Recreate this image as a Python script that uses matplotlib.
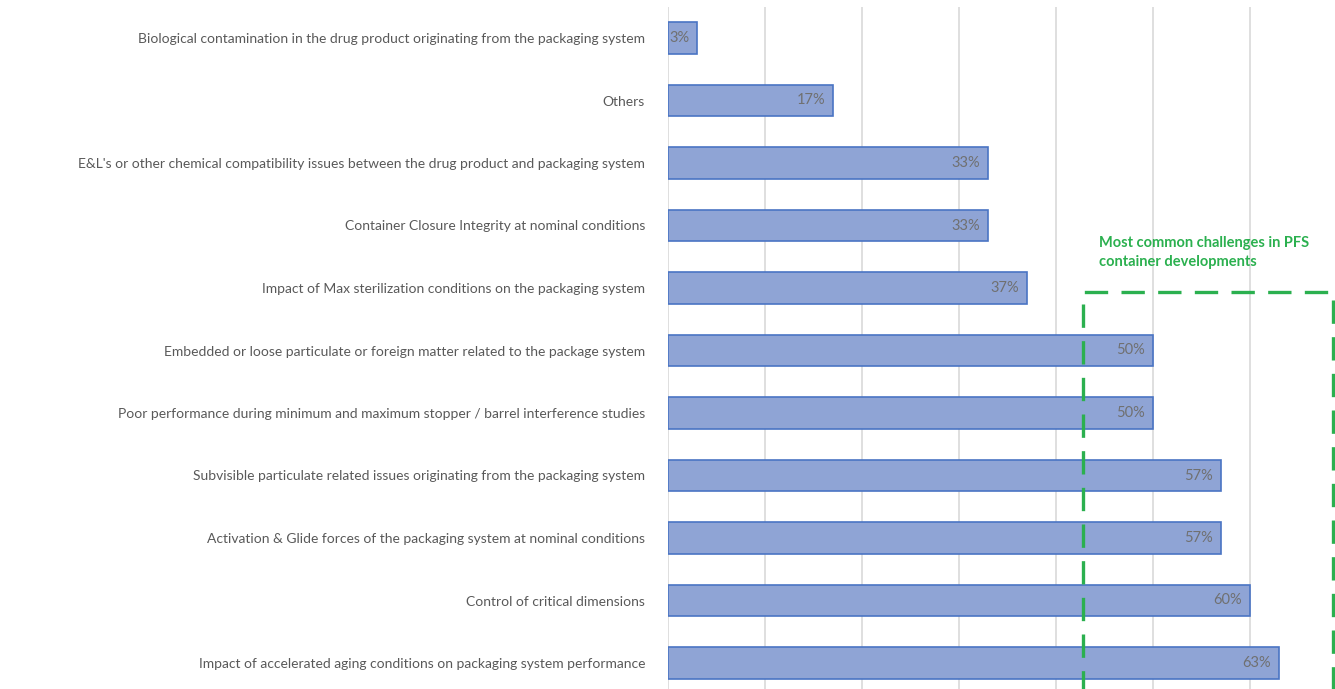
import matplotlib.pyplot as plt
from matplotlib.patches import Rectangle

plt.rcParams['font.family'] = ['Lato', 'DejaVu Sans']

categories = [
    "Biological contamination in the drug product originating from the packaging system",
    "Others",
    "E&L's or other chemical compatibility issues between the drug product and packaging system",
    "Container Closure Integrity at nominal conditions",
    "Impact of Max sterilization conditions on the packaging system",
    "Embedded or loose particulate or foreign matter related to the package system",
    "Poor performance during minimum and maximum stopper / barrel interference studies",
    "Subvisible particulate related issues originating from the packaging system",
    "Activation & Glide forces of the packaging system at nominal conditions",
    "Control of critical dimensions",
    "Impact of accelerated aging conditions on packaging system performance",
]
values = [0.03, 0.17, 0.33, 0.33, 0.37, 0.50, 0.50, 0.57, 0.57, 0.60, 0.63]
value_labels = ["3%", "17%", "33%", "33%", "37%", "50%", "50%", "57%", "57%", "60%", "63%"]

fig = plt.figure(figsize=(13.35, 6.89), dpi=100)
# axes runs a bit past the right and bottom edges, as in the cropped original
ax = fig.add_axes([668 / 1335, -5.25 / 689, 679 / 1335, 687.5 / 689])

y = list(range(len(categories)))
ax.barh(y, values, height=0.5, color='#8FA4D5', edgecolor='#4A74C4', linewidth=1.2, zorder=3)

for yi, v, lab in zip(y, values, value_labels):
    ax.text(v - 0.008, yi, lab, ha='right', va='center', fontsize=10.5, color='#707070', zorder=4)

ax.set_xlim(0, 0.7)
ax.set_ylim(len(categories) - 0.5, -0.5)
ax.set_xticks([i / 10 for i in range(8)])
ax.set_xticklabels([])
ax.set_yticks(y)
ax.set_yticklabels(categories, fontsize=10, color='#595959')
ax.tick_params(axis='both', length=0, pad=16.5)
ax.grid(axis='x', color='#D9D9D9', linewidth=1.2, zorder=0)
for s in ax.spines.values():
    s.set_visible(False)

# green dashed highlight box (figure coordinates)
green = '#2BB04F'
box = Rectangle((1083 / 1335, -0.2), (1333 - 1083) / 1335, (689 - 292) / 689 + 0.2,
                transform=fig.transFigure, fill=False, edgecolor=green,
                linewidth=2.4, linestyle=(0, (7, 4)), clip_on=False, zorder=5)
fig.patches.append(box)
fig.text(1099 / 1335, 1 - 236 / 689, "Most common challenges in PFS\ncontainer developments",
         color=green, fontsize=10.5, fontweight='bold', ha='left', va='top', linespacing=1.45)

plt.savefig('out.png', dpi=100)
plt.close()
